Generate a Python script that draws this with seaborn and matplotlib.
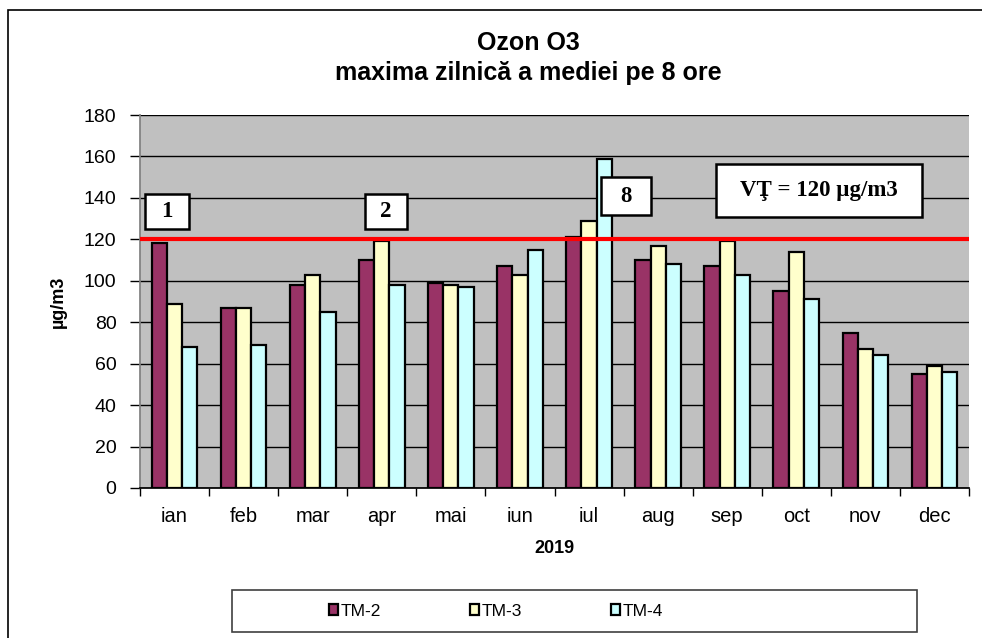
import numpy as np
import pandas as pd
import matplotlib
matplotlib.use("Agg")
import matplotlib.pyplot as plt
from matplotlib.patches import Rectangle
import seaborn as sns

months = ["ian", "feb", "mar", "apr", "mai", "iun", "iul", "aug", "sep", "oct", "nov", "dec"]
tm2 = [118, 87, 98, 110, 99, 107, 121, 110, 107, 95, 75, 55]
tm3 = [89, 87, 103, 119, 98, 103, 129, 117, 119, 114, 67, 59]
tm4 = [68, 69, 85, 98, 97, 115, 159, 108, 103, 91, 64, 56]
series = ["TM-2", "TM-3", "TM-4"]
colors = ["#993366", "#FFFFCC", "#CCFFFF"]
limit_value = 120
yticks = list(range(0, 181, 20))

df = pd.DataFrame({
    "luna": months * 3,
    "statie": [s for s in series for _ in months],
    "valoare": tm2 + tm3 + tm4,
})

sns.set_theme(style="white")
plt.rcParams["font.family"] = ["Liberation Sans", "DejaVu Sans"]
plt.rcParams.update({"text.color": "black", "axes.labelcolor": "black",
                     "xtick.color": "black", "ytick.color": "black"})

fig = plt.figure(figsize=(9.82, 6.38), dpi=100)
ax = fig.add_axes([140 / 982, 1 - 488 / 638, (969 - 140) / 982, (488 - 115) / 638])
ax.set_facecolor("#C0C0C0")

sns.barplot(data=df, x="luna", y="valoare", hue="statie", order=months, hue_order=series,
            palette=colors, width=0.66, gap=0, edgecolor="black", linewidth=1.6,
            saturation=1, ax=ax, legend=False, zorder=2)

ax.set_ylim(0, 180)
ax.set_xlim(-0.5, 11.5)
ax.set_yticks(yticks)
ax.yaxis.grid(True, color="black", linewidth=1.0)
ax.set_axisbelow(True)
for s in ax.spines.values():
    s.set_visible(False)
ax.spines["left"].set_visible(True)
ax.spines["left"].set_color("#808080")
ax.spines["bottom"].set_visible(True)
ax.spines["bottom"].set_color("black")

ax.set_xticks(np.arange(-0.5, 12, 1), minor=False)
ax.set_xticklabels([])
ax.set_xticks(np.arange(12), minor=True)
ax.set_xticklabels(months, minor=True, fontsize=14.5)
ax.tick_params(axis="x", which="major", direction="out", length=6, width=1, color="black", bottom=True)
ax.tick_params(axis="x", which="minor", length=0, pad=14)
ax.tick_params(axis="y", direction="out", length=7, width=1, color="black", left=True, labelsize=14, pad=10)

ax.set_xlabel("2019", fontsize=13, fontweight="bold", labelpad=10)
ax.set_ylabel("µg/m3", fontsize=13, fontweight="bold", labelpad=12)

ax.axhline(limit_value, color="#FF0000", linewidth=3, zorder=4)

# boxed annotations
boxes = [
    ("1", -0.43, 124.9, 0.64, 17.0),
    ("2", 2.76, 124.9, 0.60, 17.0),
    ("8", 6.17, 131.8, 0.73, 18.2),
    ("VŢ = 120 µg/m3", 7.84, 130.9, 2.98, 25.5),
]
for txt, x0, y0, w, h in boxes:
    ax.add_patch(Rectangle((x0, y0), w, h, facecolor="white", edgecolor="black",
                           linewidth=1.8, zorder=5))
    ax.text(x0 + w / 2, y0 + h / 2, txt, ha="center", va="center", fontsize=16.5,
            fontweight="bold", family=["Liberation Serif", "DejaVu Serif"], zorder=6)

fig.text(528 / 982, 1 - 43 / 638, "Ozon O3", ha="center", va="center", fontsize=18, fontweight="bold")
fig.text(528 / 982, 1 - 73 / 638, "maxima zilnică a mediei pe 8 ore", ha="center", va="center",
         fontsize=18, fontweight="bold")

# outer chart frame and legend frame
fig.patches.append(Rectangle((8 / 982, -0.02), 1.0, 1 - 10 / 638 + 0.02, transform=fig.transFigure,
                             fill=False, edgecolor="black", linewidth=1.2))
fig.patches.append(Rectangle((232 / 982, 1 - 632 / 638), 685 / 982, 42 / 638, transform=fig.transFigure,
                             fill=False, edgecolor="#404040", linewidth=1.2))

handles = [Rectangle((0, 0), 1, 1, facecolor=c, edgecolor="black", linewidth=1.6) for c in colors]
fig.legend(handles, series, loc="center left", bbox_to_anchor=(320 / 982, 1 - 611 / 638),
           ncol=3, frameon=False, fontsize=12.5, handlelength=0.55, handleheight=0.55,
           handletextpad=0.15, columnspacing=5.1, borderpad=0)

fig.savefig("out.png", dpi=100)
